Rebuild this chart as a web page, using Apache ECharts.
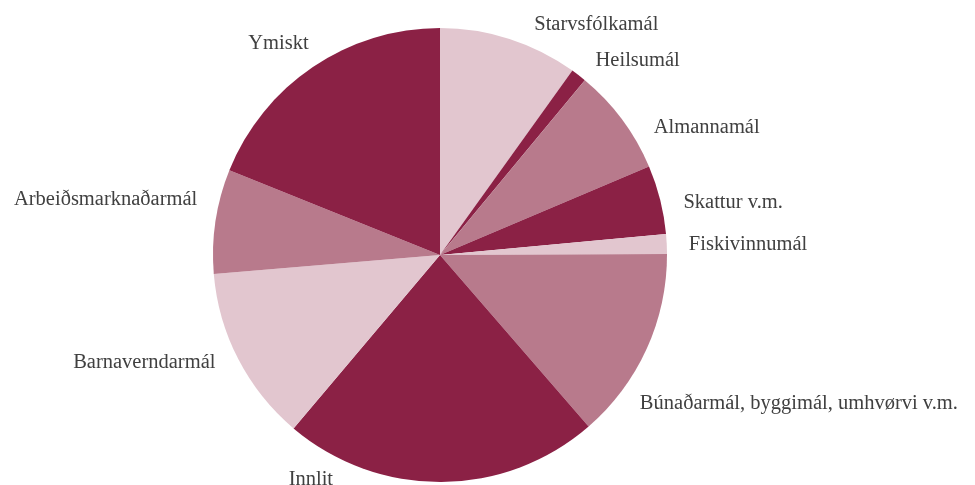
<!DOCTYPE html>
<html>
<head>
    <meta charset="UTF-8">
    <script src="https://cdn.jsdelivr.net/npm/echarts@6/dist/echarts.min.js"></script>
    <style>
        html, body { margin: 0; padding: 0; background: #fff; }
    </style>
</head>
<body>
    <div id="main" style="width:975px;height:485px;"></div>
    <script>
        // data (share of total)
        var categories = ['Starvsfólkamál', 'Heilsumál', 'Almannamál', 'Skattur v.m.', 'Fiskivinnumál',
            'Búnaðarmál, byggimál, umhvørvi v.m.', 'Innlit', 'Barnaverndarmál', 'Arbeiðsmarknaðarmál', 'Ymiskt'];
        var values = [9.9, 1.1, 7.6, 4.9, 1.4, 13.7, 22.5, 12.5, 7.4, 18.9];
        var colors = ['#E2C6CF', '#8B2145', '#B87A8C', '#8B2145', '#E2C6CF',
            '#B87A8C', '#8B2145', '#E2C6CF', '#B87A8C', '#8B2145'];
        // how far (degrees, clockwise) each label sits from its slice middle
        var labelShift = [4.4, 1, 5.8, 2, 0.5, 12.2, 25.8, 1.7, 4.3, 2.2];

        var cx = 440, cy = 255, r = 227, labelR = 249;

        var total = values.reduce(function (a, b) { return a + b; }, 0);
        var midAngles = [];
        var acc = 0;
        values.forEach(function (v) {
            midAngles.push((acc + v / 2) / total * 360);
            acc += v;
        });

        var myChart = echarts.init(document.getElementById('main'));

        var option = {
            animation: false,
            series: [{
                type: 'pie',
                center: [cx, cy],
                radius: r,
                startAngle: 90,
                clockwise: true,
                data: categories.map(function (c, i) {
                    return { name: c, value: values[i], itemStyle: { color: colors[i] } };
                }),
                itemStyle: { borderWidth: 0 },
                label: {
                    show: true,
                    position: 'outside',
                    formatter: '{b}',
                    fontFamily: 'Liberation Serif',
                    fontSize: 20.5,
                    color: '#404040',
                    overflow: 'none'
                },
                labelLine: { show: false, length: 22, length2: 0 },
                labelLayout: function (p) {
                    var a = (midAngles[p.dataIndex] + labelShift[p.dataIndex]) * Math.PI / 180;
                    var s = Math.sin(a);
                    return {
                        x: cx + labelR * s,
                        y: cy - labelR * Math.cos(a),
                        align: s >= 0 ? 'left' : 'right',
                        verticalAlign: 'middle'
                    };
                },
                emphasis: { disabled: true }
            }]
        };

        myChart.setOption(option);
    </script>
</body>
</html>
